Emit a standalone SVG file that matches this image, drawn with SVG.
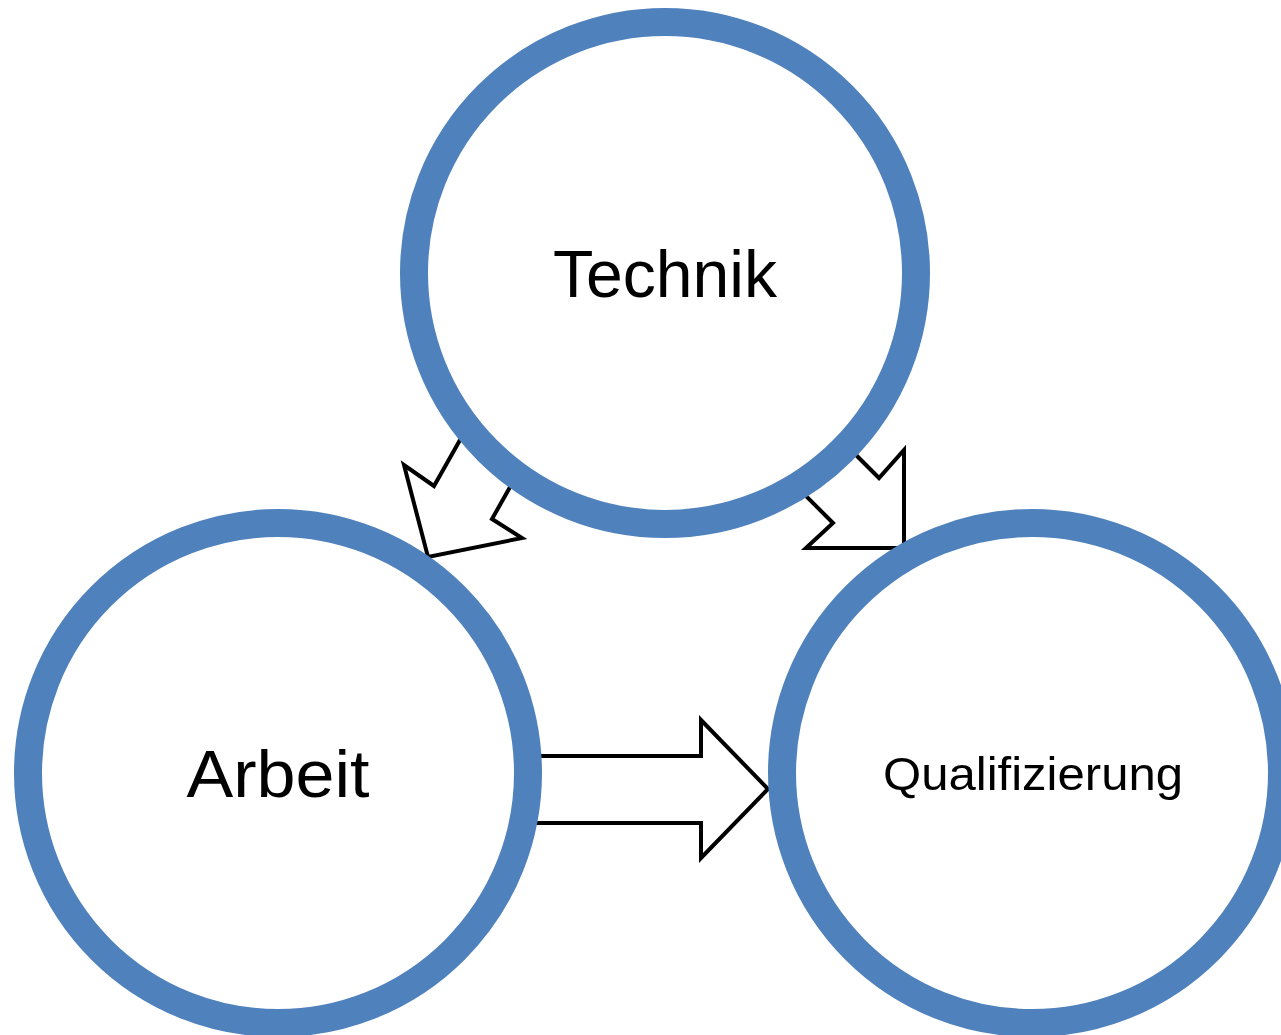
<svg xmlns="http://www.w3.org/2000/svg" width="1281" height="1035" viewBox="0 0 1281 1035">
<style>
.arrow{fill:#FFFFFF;stroke:#000000;stroke-width:4;stroke-linejoin:miter}
.ring{fill:#FFFFFF;stroke:#4F81BD;stroke-width:28}
.lbl{font-family:"Liberation Sans",Arial,sans-serif;fill:#000000;text-anchor:middle}
</style>
<rect width="1281" height="1035" fill="#FFFFFF"/>
<g id="connectors">
<polygon class="arrow" points="508,355 434,486 404,465 428,557 522,538 492,519 566,388"/>
<polygon class="arrow" points="800,399 879,478 904,450 904,548 806,548 833,523 743,433"/>
<polygon class="arrow" points="520,756 701,756 701,720 768,789 701,858 701,823 520,823"/>
</g>
<g id="technik">
<circle class="ring" cx="665" cy="273" r="251"/>
<text class="lbl" x="665" y="297" font-size="67" textLength="224" lengthAdjust="spacingAndGlyphs">Technik</text>
</g>
<g id="arbeit">
<circle class="ring" cx="278" cy="773" r="250"/>
<text class="lbl" x="278" y="797" font-size="67" textLength="183" lengthAdjust="spacingAndGlyphs">Arbeit</text>
</g>
<g id="qualifizierung">
<circle class="ring" cx="1032" cy="773" r="250"/>
<text class="lbl" x="1033" y="790" font-size="47" textLength="300" lengthAdjust="spacingAndGlyphs">Qualifizierung</text>
</g>
</svg>
